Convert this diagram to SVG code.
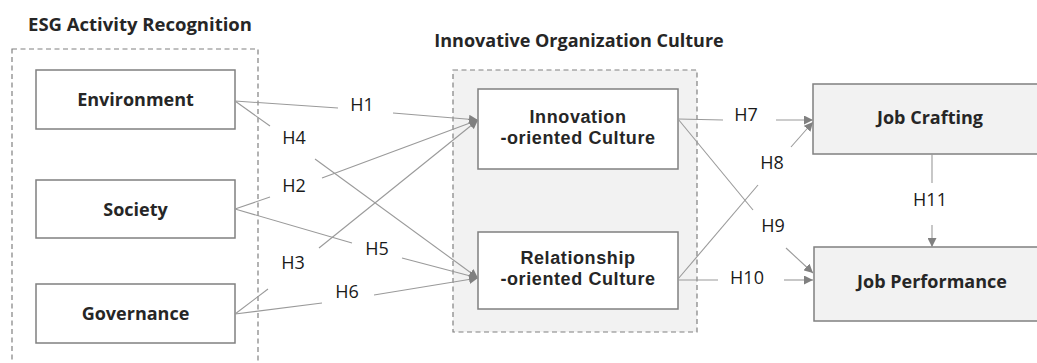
<svg xmlns="http://www.w3.org/2000/svg" width="1037" height="363" viewBox="0 0 1037 363">
<style>
.grp{fill:none;stroke:#808080;stroke-width:1.2;stroke-dasharray:5,3.5}
.grpf{fill:#f2f2f2;stroke:#808080;stroke-width:1.2;stroke-dasharray:5,3.5}
.box{fill:#fff;stroke:#808080;stroke-width:1.5}
.gbox{fill:#f2f2f2;stroke:#808080;stroke-width:1.5}
.t{font-family:"Open Sans","Liberation Sans",sans-serif;font-weight:bold;font-size:18px;fill:#262626;text-anchor:middle}
.t2{font-family:"Liberation Sans",Arial,sans-serif;font-weight:bold;font-size:18px;letter-spacing:0.6px;fill:#262626;text-anchor:middle}
.h{font-family:"Open Sans","Liberation Sans",sans-serif;font-size:18px;fill:#1a1a1a;text-anchor:middle}
.c{fill:none;stroke:#9a9a9a;stroke-width:1.1}
</style>
<defs>
<marker id="ah" viewBox="0 0 10 10" refX="10" refY="5" markerWidth="9" markerHeight="9" markerUnits="userSpaceOnUse" orient="auto">
<path d="M0,0 L10,5 L0,10 z" fill="#808080"/>
</marker>
</defs>
<g id="esg-group">
<rect class="grp" x="12" y="49" width="246" height="330"/>
<text class="t" x="140" y="31" style="font-size:18.5px">ESG Activity Recognition</text>
</g>
<g id="culture-group">
<rect class="grpf" x="453" y="70" width="244" height="262"/>
<text class="t" x="579" y="47">Innovative Organization Culture</text>
</g>
<g id="environment">
<rect class="box" x="36" y="70" width="199" height="59"/>
<text class="t" x="135.5" y="106">Environment</text>
</g>
<g id="society">
<rect class="box" x="36" y="180" width="199" height="58"/>
<text class="t" x="135.5" y="216">Society</text>
</g>
<g id="governance">
<rect class="box" x="36" y="284" width="199" height="59"/>
<text class="t" x="135.5" y="320">Governance</text>
</g>
<g id="innovation">
<rect class="box" x="478" y="89" width="200" height="80"/>
<text class="t2" x="578" y="123">Innovation</text>
<text class="t2" x="578" y="144">-oriented Culture</text>
</g>
<g id="relationship">
<rect class="box" x="478" y="232" width="200" height="77"/>
<text class="t2" x="578" y="264">Relationship</text>
<text class="t2" x="578" y="285">-oriented Culture</text>
</g>
<g id="job-crafting">
<rect class="gbox" x="813" y="84" width="230" height="70"/>
<text class="t" x="930" y="124">Job Crafting</text>
</g>
<g id="job-performance">
<rect class="gbox" x="814" y="247" width="230" height="74"/>
<text class="t" x="932" y="288">Job Performance</text>
</g>
<g id="connectors">
<line class="c" x1="235" y1="101" x2="338" y2="108"/>
<line class="c" x1="393" y1="113" x2="478" y2="120" marker-end="url(#ah)"/>
<text class="h" x="362" y="111">H1</text>
<line class="c" x1="235" y1="101" x2="270" y2="126"/>
<line class="c" x1="315" y1="159" x2="478" y2="278" marker-end="url(#ah)"/>
<text class="h" x="294" y="144">H4</text>
<line class="c" x1="235" y1="209" x2="270" y2="197"/>
<line class="c" x1="322" y1="178" x2="478" y2="120" marker-end="url(#ah)"/>
<text class="h" x="294" y="192">H2</text>
<line class="c" x1="235" y1="209" x2="352" y2="243"/>
<line class="c" x1="402" y1="258" x2="478" y2="278" marker-end="url(#ah)"/>
<text class="h" x="377" y="255">H5</text>
<line class="c" x1="235" y1="314" x2="268" y2="289"/>
<line class="c" x1="319" y1="248" x2="478" y2="120" marker-end="url(#ah)"/>
<text class="h" x="293" y="269">H3</text>
<line class="c" x1="235" y1="314" x2="322" y2="303"/>
<line class="c" x1="374" y1="295" x2="478" y2="278" marker-end="url(#ah)"/>
<text class="h" x="347" y="298">H6</text>
<line class="c" x1="678" y1="119" x2="723" y2="120"/>
<line class="c" x1="776" y1="120" x2="813" y2="120" marker-end="url(#ah)"/>
<text class="h" x="746" y="121">H7</text>
<line class="c" x1="678" y1="119" x2="753" y2="210"/>
<line class="c" x1="786" y1="248" x2="813" y2="273" marker-end="url(#ah)"/>
<text class="h" x="773" y="232">H9</text>
<line class="c" x1="678" y1="279" x2="758" y2="185"/>
<line class="c" x1="791" y1="147" x2="813" y2="122" marker-end="url(#ah)"/>
<text class="h" x="772" y="169">H8</text>
<line class="c" x1="678" y1="280" x2="718" y2="280"/>
<line class="c" x1="784" y1="280" x2="813" y2="280" marker-end="url(#ah)"/>
<text class="h" x="747" y="284">H10</text>
<line class="c" x1="932" y1="154" x2="932" y2="183"/>
<line class="c" x1="932" y1="225" x2="932" y2="247" marker-end="url(#ah)"/>
<text class="h" x="930" y="206">H11</text>
</g>
</svg>
